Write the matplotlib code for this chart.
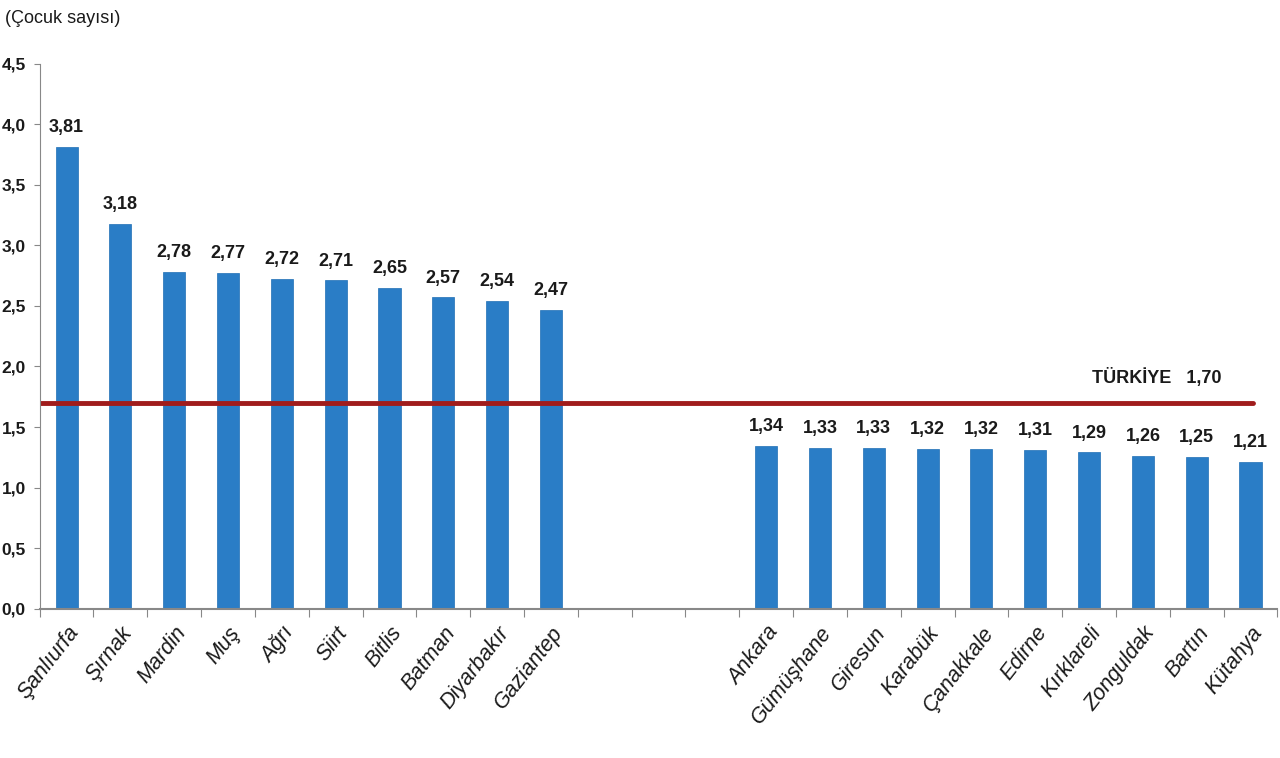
import matplotlib.pyplot as plt
import numpy as np

plt.rcParams['font.family'] = ['Liberation Sans Narrow', 'Liberation Sans', 'DejaVu Sans']

# il isimleri (boş olanlar iki grup arasındaki boşluk)
iller = ['Şanlıurfa', 'Şırnak', 'Mardin', 'Muş', 'Ağrı', 'Siirt', 'Bitlis', 'Batman',
         'Diyarbakır', 'Gaziantep', '', '', '',
         'Ankara', 'Gümüşhane', 'Giresun', 'Karabük', 'Çanakkale', 'Edirne',
         'Kırklareli', 'Zonguldak', 'Bartın', 'Kütahya']
degerler = [3.81, 3.18, 2.78, 2.77, 2.72, 2.71, 2.65, 2.57, 2.54, 2.47,
            None, None, None,
            1.34, 1.33, 1.33, 1.32, 1.32, 1.31, 1.29, 1.26, 1.25, 1.21]
turkiye = 1.70
yticks = [0.0, 0.5, 1.0, 1.5, 2.0, 2.5, 3.0, 3.5, 4.0, 4.5]

fig = plt.figure(figsize=(12.8, 7.58), dpi=100)
ax = fig.add_axes([0.031, 0.197, 0.967, 0.719])

x = np.arange(len(iller)) + 0.5
for xi, v in zip(x, degerler):
    if v is None:
        continue
    ax.bar(xi, v, width=0.41, color='#2A7DC6', edgecolor='#1F6FB5', linewidth=0.5)
    ax.text(xi, v + 0.09, f'{v:.2f}'.replace('.', ','), ha='center', va='bottom',
            fontsize=13, fontweight='bold', color='#1a1a1a')

# Türkiye ortalaması
ax.plot([0, 22.55], [turkiye, turkiye], color='#A01C1C', linewidth=3.5, solid_capstyle='round')
ax.text(20.75, turkiye + 0.13, 'TÜRKİYE   ' + f'{turkiye:.2f}'.replace('.', ','),
        ha='center', va='bottom', fontsize=13, fontweight='bold', color='#1a1a1a')

ax.set_xlim(0, 23)
ax.set_ylim(0, 4.5)
ax.set_yticks(yticks)
ax.set_yticklabels([f'{t:.1f}'.replace('.', ',') for t in yticks], fontsize=12.5,
                   fontweight='bold', color='#1a1a1a')
ax.set_xticks(np.arange(0, 24))
ax.set_xticklabels([])
ax.set_xticks(x, minor=True)
ax.set_xticklabels(iller, minor=True, rotation=52, ha='right', rotation_mode='anchor',
                   fontsize=15.5, style='italic', color='#1a1a1a')
ax.tick_params(axis='x', which='minor', length=0, pad=10)
ax.tick_params(axis='x', which='major', length=6, color='#888888', direction='out')
ax.tick_params(axis='y', length=4, color='#888888', direction='out', pad=6)

for s in ['top', 'right']:
    ax.spines[s].set_visible(False)
ax.spines['left'].set_color('#888888')
ax.spines['bottom'].set_color('#888888')
ax.spines['bottom'].set_linewidth(1.5)

fig.text(0.004, 0.975, '(Çocuk sayısı)', fontsize=13, ha='left', va='center', color='#1a1a1a')

plt.savefig('out.png')
